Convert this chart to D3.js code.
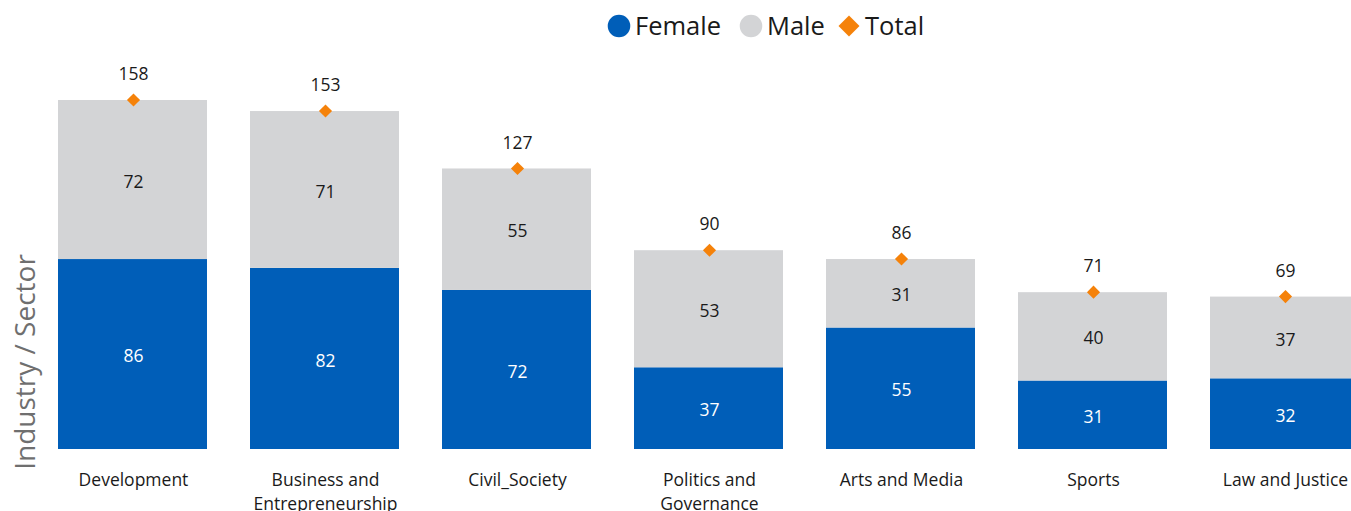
<!DOCTYPE html>
<html>
<head>
<meta charset="utf-8">
<script src="https://cdn.jsdelivr.net/npm/d3@7"></script>
<style>
  body { margin: 0; background: #fff; overflow: hidden; }
  text { font-family: "Open Sans", "Noto Sans", sans-serif; }
</style>
</head>
<body>
<div id="chart"></div>
<script>
// Data
const sectors = ["Development", "Business and Entrepreneurship", "Civil_Society", "Politics and Governance", "Arts and Media", "Sports", "Law and Justice"];
const sectorLines = [["Development"], ["Business and", "Entrepreneurship"], ["Civil_Society"], ["Politics and", "Governance"], ["Arts and Media"], ["Sports"], ["Law and Justice"]];
const female = [86, 82, 72, 37, 55, 31, 32];
const male = [72, 71, 55, 53, 31, 40, 37];
const total = [158, 153, 127, 90, 86, 71, 69];

const W = 1351, H = 511;
const colors = { female: "#005EB8", male: "#D3D4D6", total: "#F5820A" };

const svg = d3.select("#chart").append("svg")
  .attr("width", W)
  .attr("height", H);

// Scales
const xScale = d3.scaleBand()
  .domain(sectors)
  .range([58, 1359])
  .paddingInner(0.224)
  .paddingOuter(0);

const yScale = d3.scaleLinear()
  .domain([0, 158])
  .range([449, 100]);

const rows = sectors.map((s, i) => ({ sector: s, lines: sectorLines[i], female: female[i], male: male[i], total: total[i] }));

// Female segments
svg.selectAll(".female")
  .data(rows)
  .enter()
  .append("rect")
  .attr("class", "female")
  .attr("x", d => xScale(d.sector))
  .attr("y", d => yScale(d.female))
  .attr("width", xScale.bandwidth())
  .attr("height", d => yScale(0) - yScale(d.female))
  .attr("fill", colors.female);

// Male segments stacked on top
svg.selectAll(".male")
  .data(rows)
  .enter()
  .append("rect")
  .attr("class", "male")
  .attr("x", d => xScale(d.sector))
  .attr("y", d => yScale(d.female + d.male))
  .attr("width", xScale.bandwidth())
  .attr("height", d => yScale(d.female) - yScale(d.female + d.male))
  .attr("fill", colors.male);

const cx = d => xScale(d.sector) + xScale.bandwidth() / 2 + 1;

// Segment labels
svg.selectAll(".female-label")
  .data(rows)
  .enter()
  .append("text")
  .attr("x", cx)
  .attr("y", d => yScale(d.female / 2) + 2)
  .attr("dy", "0.35em")
  .attr("text-anchor", "middle")
  .attr("font-size", 17.5)
  .attr("fill", "#fff")
  .text(d => d.female);

svg.selectAll(".male-label")
  .data(rows)
  .enter()
  .append("text")
  .attr("x", cx)
  .attr("y", d => yScale(d.female + d.male / 2) + 2)
  .attr("dy", "0.35em")
  .attr("text-anchor", "middle")
  .attr("font-size", 17.5)
  .attr("fill", "#1a1a1a")
  .text(d => d.male);

// Total markers and labels
const diamond = d3.symbol().type(d3.symbolDiamond2).size(110);

svg.selectAll(".total")
  .data(rows)
  .enter()
  .append("path")
  .attr("class", "total")
  .attr("d", diamond)
  .attr("transform", d => `translate(${cx(d)},${yScale(d.total)})`)
  .attr("fill", colors.total);

svg.selectAll(".total-label")
  .data(rows)
  .enter()
  .append("text")
  .attr("x", cx)
  .attr("y", d => yScale(d.total) - 26)
  .attr("dy", "0.35em")
  .attr("text-anchor", "middle")
  .attr("font-size", 17.5)
  .attr("fill", "#1a1a1a")
  .text(d => d.total);

// Category labels (wrapped)
const cat = svg.selectAll(".cat")
  .data(rows)
  .enter()
  .append("text")
  .attr("class", "cat")
  .attr("text-anchor", "middle")
  .attr("font-size", 17.5)
  .attr("fill", "#1a1a1a");

cat.selectAll("tspan")
  .data(d => d.lines.map(l => ({ l, x: cx(d) })))
  .enter()
  .append("tspan")
  .attr("x", d => d.x)
  .attr("y", (d, i) => 486 + i * 24)
  .text(d => d.l);

// Y axis title
svg.append("text")
  .attr("transform", "translate(35,362) rotate(-90)")
  .attr("text-anchor", "middle")
  .attr("font-size", 28)
  .attr("fill", "#6f6f6f")
  .text("Industry / Sector");

// Legend
const legend = svg.append("g").attr("transform", "translate(0,26)");
const legendItems = [
  { label: "Female", color: colors.female, shape: d3.symbolCircle, x: 619 },
  { label: "Male", color: colors.male, shape: d3.symbolCircle, x: 751 },
  { label: "Total", color: colors.total, shape: d3.symbolDiamond2, x: 849 }
];

legend.selectAll("path")
  .data(legendItems)
  .enter()
  .append("path")
  .attr("d", d => d3.symbol().type(d.shape).size(d.shape === d3.symbolCircle ? 400 : 280)())
  .attr("transform", d => `translate(${d.x},0)`)
  .attr("fill", d => d.color);

legend.selectAll("text")
  .data(legendItems)
  .enter()
  .append("text")
  .attr("x", d => d.x + 16)
  .attr("y", 0)
  .attr("dy", "0.35em")
  .attr("font-size", 25.5)
  .attr("fill", "#1a1a1a")
  .text(d => d.label);
</script>
</body>
</html>
